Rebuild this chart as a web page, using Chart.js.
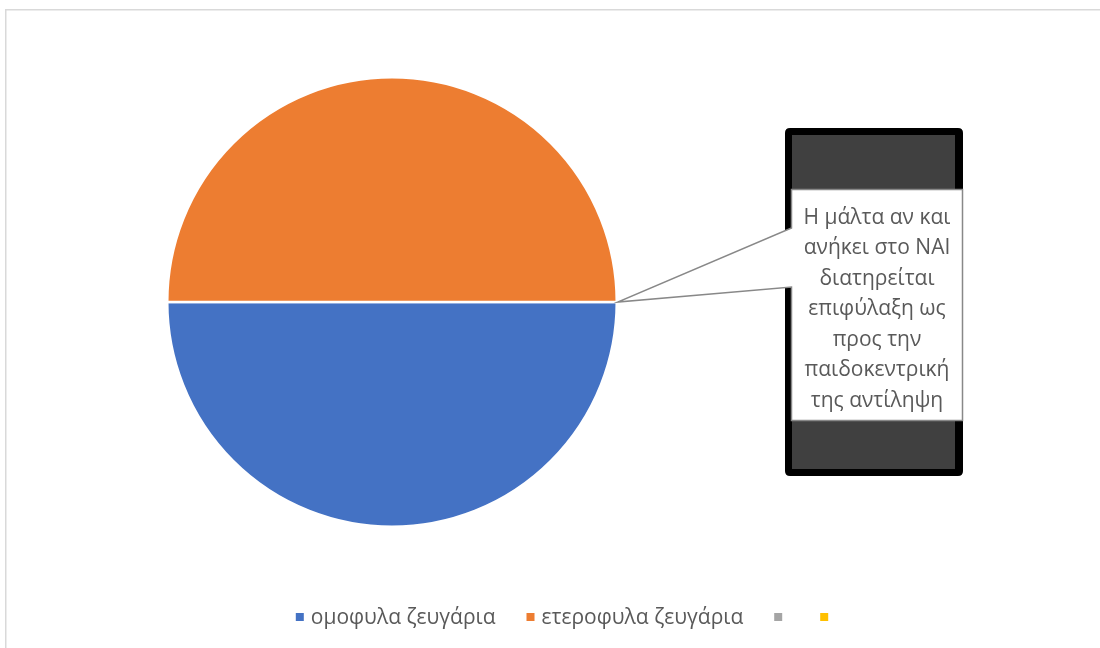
<!DOCTYPE html>
<html>
<head>
<meta charset="utf-8">
<script src="https://cdn.jsdelivr.net/npm/chart.js@4.4.1/dist/chart.umd.min.js"></script>
<style>
  html, body { margin: 0; padding: 0; background: #ffffff; }
  #wrap { width: 1100px; height: 648px; position: relative; }
</style>
</head>
<body>
<div id="wrap"><canvas id="c" width="1100" height="648"></canvas></div>
<script>
// Categories and values of the pie
const categories = ['ομοφυλα ζευγάρια', 'ετεροφυλα ζευγάρια', '', ''];
const shares = [50, 50, 0, 0];
const sliceColors = ['#4472C4', '#ED7D31', '#A5A5A5', '#FFC000'];

// Callout note text, one entry per line
const noteLines = [
  'Η μάλτα αν και',
  'ανήκει στο ΝΑΙ',
  'διατηρείται',
  'επιφύλαξη ως',
  'προς την',
  'παιδοκεντρική',
  'της αντίληψη'
];

const FONT = '"Open Sans", "Noto Sans", "DejaVu Sans", sans-serif';
const TEXT_COLOR = '#595959';

function roundRect(ctx, x, y, w, h, r) {
  ctx.beginPath();
  ctx.moveTo(x + r, y);
  ctx.lineTo(x + w - r, y);
  ctx.quadraticCurveTo(x + w, y, x + w, y + r);
  ctx.lineTo(x + w, y + h - r);
  ctx.quadraticCurveTo(x + w, y + h, x + w - r, y + h);
  ctx.lineTo(x + r, y + h);
  ctx.quadraticCurveTo(x, y + h, x, y + h - r);
  ctx.lineTo(x, y + r);
  ctx.quadraticCurveTo(x, y, x + r, y);
  ctx.closePath();
}

// White background and outer frame of the chart
const framePlugin = {
  id: 'frame',
  beforeDraw(chart) {
    const ctx = chart.ctx;
    ctx.save();
    ctx.fillStyle = '#ffffff';
    ctx.fillRect(0, 0, chart.width, chart.height);
    ctx.strokeStyle = '#d9d9d9';
    ctx.lineWidth = 1.5;
    ctx.strokeRect(5.75, 9.75, chart.width + 50, chart.height + 50);
    ctx.restore();
  }
};

// Dark panel with the callout note pointing at the pie's rim
const notePlugin = {
  id: 'note',
  afterDatasetsDraw(chart) {
    const ctx = chart.ctx;
    const arc = chart.getDatasetMeta(0).data[0];
    const tipX = arc.x + arc.outerRadius * Math.cos(arc.startAngle);
    const tipY = arc.y + arc.outerRadius * Math.sin(arc.startAngle);

    ctx.save();
    // black-framed dark panel
    ctx.fillStyle = '#000000';
    roundRect(ctx, 785, 128, 178, 348, 5);
    ctx.fill();
    ctx.fillStyle = '#404040';
    ctx.fillRect(792, 135, 163, 334);

    // callout shape: box plus pointer wedge
    const bx = 791.5, by = 189.5, bw = 171, bh = 231;
    ctx.beginPath();
    ctx.moveTo(bx, by);
    ctx.lineTo(bx + bw, by);
    ctx.lineTo(bx + bw, by + bh);
    ctx.lineTo(bx, by + bh);
    ctx.lineTo(bx, 287);
    ctx.lineTo(tipX + 1, tipY);
    ctx.lineTo(bx, 228);
    ctx.closePath();
    ctx.fillStyle = '#ffffff';
    ctx.fill();
    ctx.strokeStyle = '#888888';
    ctx.lineWidth = 1.5;
    ctx.lineJoin = 'miter';
    ctx.stroke();

    // note text
    ctx.fillStyle = TEXT_COLOR;
    ctx.font = '21px ' + FONT;
    ctx.textAlign = 'center';
    ctx.textBaseline = 'middle';
    const cx = bx + bw / 2;
    noteLines.forEach((line, i) => {
      ctx.fillText(line, cx, 218 + i * 30.5);
    });
    ctx.restore();
  }
};

// Legend row under the pie, built from the category list
const legendPlugin = {
  id: 'legendRow',
  afterDraw(chart) {
    const ctx = chart.ctx;
    const ds = chart.data.datasets[0];
    ctx.save();
    ctx.font = '21px ' + FONT;
    ctx.textBaseline = 'middle';
    ctx.textAlign = 'left';
    const box = 8, gapAfterBox = 7, gapBetween = 31;
    const widths = chart.data.labels.map(l => ctx.measureText(l).width);
    let total = 0;
    widths.forEach((w, i) => {
      total += box + gapAfterBox + w + (i < widths.length - 1 ? gapBetween : -gapAfterBox);
    });
    let x = 562 - total / 2;
    const y = 617;
    chart.data.labels.forEach((label, i) => {
      ctx.fillStyle = ds.backgroundColor[i];
      ctx.fillRect(x, y - box / 2, box, box);
      x += box + gapAfterBox;
      ctx.fillStyle = TEXT_COLOR;
      ctx.fillText(label, x, y + 1);
      x += widths[i] + gapBetween;
    });
    ctx.restore();
  }
};

new Chart(document.getElementById('c'), {
  type: 'pie',
  data: {
    labels: categories,
    datasets: [{
      data: shares,
      backgroundColor: sliceColors,
      borderColor: '#ffffff',
      borderWidth: 2.5
    }]
  },
  options: {
    responsive: false,
    animation: false,
    rotation: 90,
    layout: {
      padding: { left: 166, right: 482, top: 76, bottom: 120 }
    },
    plugins: {
      legend: { display: false },
      tooltip: { enabled: false }
    }
  },
  plugins: [framePlugin, notePlugin, legendPlugin]
});
</script>
</body>
</html>
